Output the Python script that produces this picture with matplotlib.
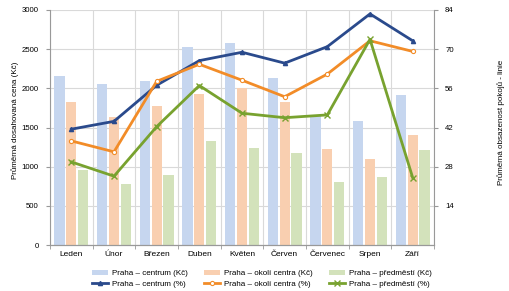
import numpy as np
import matplotlib.pyplot as plt

plt.rcParams['font.family'] = ['Liberation Sans', 'DejaVu Sans']

months = ['Leden', 'Únor', 'Březen', 'Duben', 'Květen', 'Červen', 'Červenec', 'Srpen', 'Září']

# average price (Kč) - bars
centrum_kc = [2160, 2060, 2100, 2530, 2580, 2130, 1650, 1580, 1920]
okoli_kc = [1820, 1640, 1770, 1930, 2010, 1820, 1230, 1100, 1410]
predmesti_kc = [960, 780, 900, 1330, 1240, 1170, 800, 870, 1210]

# average occupancy (%) - lines
centrum_pct = [41.4, 44.2, 57.1, 65.9, 68.9, 65.0, 70.9, 82.6, 73.0]
okoli_pct = [37.2, 33.3, 58.5, 64.6, 58.9, 53.0, 61.1, 73.0, 69.2]
predmesti_pct = [29.7, 24.6, 42.3, 57.0, 47.1, 45.5, 46.5, 73.5, 24.1]

c_blue, c_orange, c_green = '#2a4a8c', '#f28c28', '#78a22f'
b_blue, b_orange, b_green = '#c6d6ef', '#f9cfb0', '#d3e2bb'
fs = 5.6

fig = plt.figure(figsize=(5.1, 2.91), dpi=100)
ax = fig.add_axes([50 / 510, 46 / 291, 384 / 510, 235 / 291])
ax2 = ax.twinx()

x = np.arange(len(months))
w = 0.24
ax.bar(x - 0.28, centrum_kc, w, color=b_blue, label='Praha – centrum (Kč)', zorder=2)
ax.bar(x, okoli_kc, w, color=b_orange, label='Praha – okolí centra (Kč)', zorder=2)
ax.bar(x + 0.28, predmesti_kc, w, color=b_green, label='Praha – předměstí (Kč)', zorder=2)

ax2.plot(x, centrum_pct, color=c_blue, lw=2, marker='^', ms=3, label='Praha – centrum (%)')
ax2.plot(x, okoli_pct, color=c_orange, lw=2, marker='o', ms=3, mfc='white', mew=0.8,
         label='Praha – okolí centra (%)')
ax2.plot(x, predmesti_pct, color=c_green, lw=2, marker='x', ms=4, mew=1, label='Praha – předměstí (%)')

ax.set_xlim(-0.5, len(months) - 0.5)
ax.set_ylim(0, 3000)
ax.set_yticks(range(0, 3001, 500))
ax2.set_ylim(0, 84)
ax2.set_yticks([14, 28, 42, 56, 70, 84])

ax.set_xticks(x)
ax.set_xticklabels(months)
ax.set_xticks(np.arange(-0.5, len(months)), minor=True)
ax.tick_params(axis='x', which='major', length=0, labelsize=fs + 0.4, pad=4)
ax.tick_params(axis='x', which='minor', length=3, color='#999999')
ax.tick_params(axis='y', labelsize=fs, length=3, color='#999999', pad=5)
ax2.tick_params(axis='y', labelsize=fs, length=3, color='#999999', pad=5)

ax.grid(axis='y', color='#d9d9d9', lw=0.8, zorder=0)
ax.grid(axis='x', which='minor', color='#d9d9d9', lw=0.8, zorder=0)
ax.set_axisbelow(True)

for a in (ax, ax2):
    a.spines['top'].set_visible(False)
    for s in ('left', 'right', 'bottom'):
        a.spines[s].set_color('#999999')
        a.spines[s].set_linewidth(0.8)
ax2.spines['left'].set_visible(False)
ax.spines['right'].set_visible(False)

ax.set_ylabel('Průměrná dosahovaná cena (Kč)', fontsize=fs + 0.2)
ax2.set_ylabel('Průměrná obsazenost pokojů - linie', fontsize=fs + 0.2, rotation=90)
ax.yaxis.set_label_coords(-0.08, 0.53)
ax2.yaxis.set_label_coords(1.165, 0.52)

h1, l1 = ax.get_legend_handles_labels()
h2, l2 = ax2.get_legend_handles_labels()
order_h = [h1[0], h2[0], h1[1], h2[1], h1[2], h2[2]]
order_l = [l1[0], l2[0], l1[1], l2[1], l1[2], l2[2]]
fig.legend(order_h, order_l, ncol=3, loc='lower center', bbox_to_anchor=(0.513, -0.015),
           fontsize=fs + 0.2, frameon=False, handlelength=2.0, handletextpad=0.5,
           columnspacing=2.0, labelspacing=0.4, handleheight=0.7)

fig.savefig('out.png', dpi=100)
